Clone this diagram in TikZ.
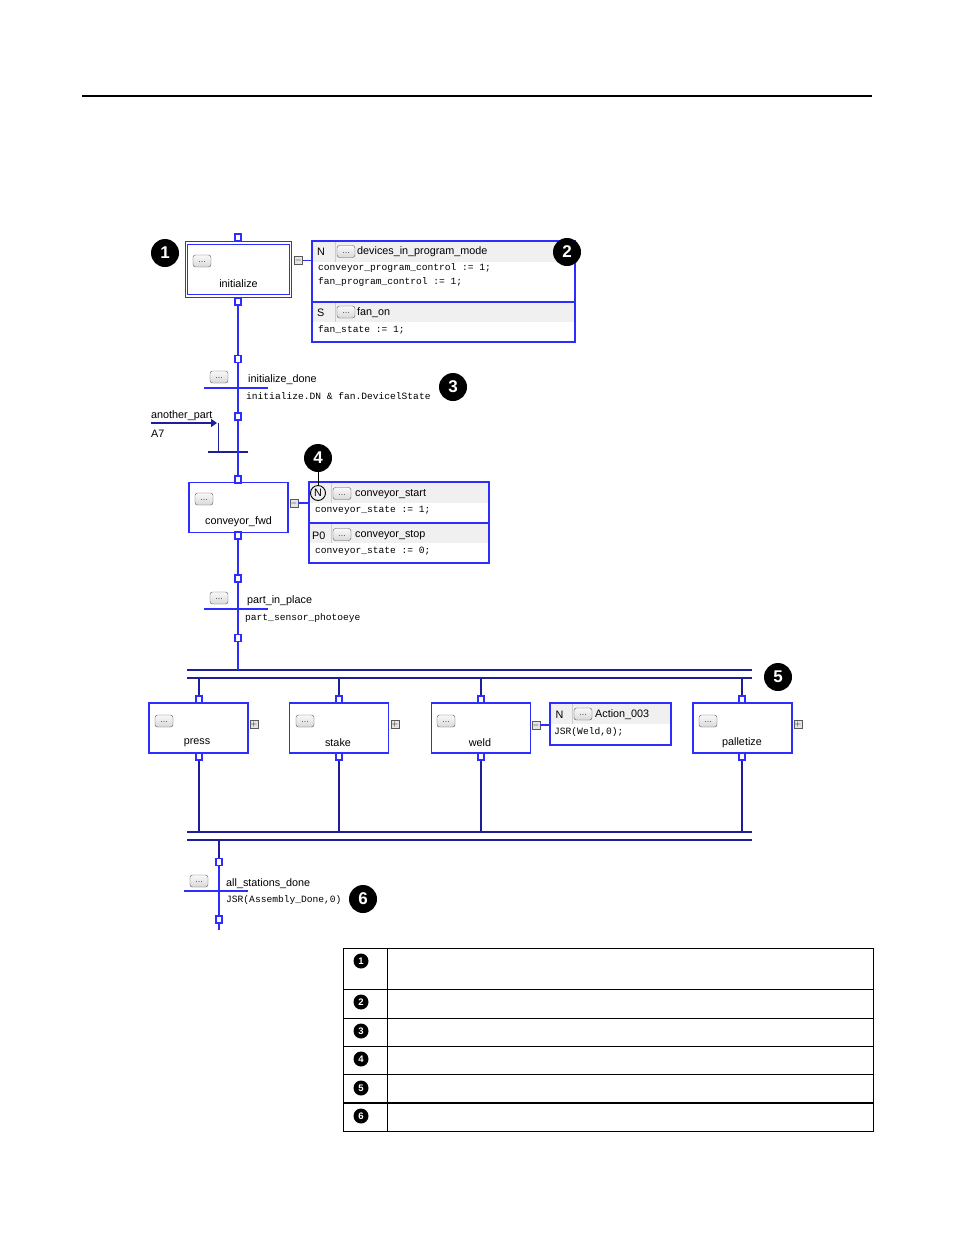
\documentclass[tikz,border=0pt]{standalone}
\usepackage{fontspec}
\setmainfont{Liberation Sans}
\newfontfamily\codefont{Liberation Mono}
\usetikzlibrary{arrows.meta}
\definecolor{sfcblue}{RGB}{45,45,255}
\definecolor{sfcnavy}{RGB}{30,30,150}
\definecolor{hdrgray}{RGB}{240,240,240}
\definecolor{sepgray}{RGB}{205,205,205}
\begin{document}
\begin{tikzpicture}[x=1pt,y=-1pt,
  lbl/.style={font=\fontsize{10.8}{12}\selectfont, anchor=west, inner sep=0pt, yshift=-1.5pt},
  steplbl/.style={font=\fontsize{10.8}{12}\selectfont, inner sep=0pt, yshift=-2pt},
  code/.style={font=\codefont\fontsize{9.6}{11}\selectfont, anchor=west, inner sep=0pt, yshift=-0.5pt},
  dots/.style={draw=gray!70!black, rounded corners=2.5pt, top color=gray!5, bottom color=gray!30,
    minimum width=18pt, minimum height=12pt, inner sep=0pt, font=\fontsize{9}{9}\selectfont, text=black!70,
    text depth=0pt, text height=3pt},
  pmbtn/.style={draw=gray!70!black, fill=gray!20, minimum size=8pt, inner sep=0pt, font=\fontsize{8}{8}\selectfont},
  conn/.style={draw=sfcblue, fill=white, line width=1.2pt, minimum width=6pt, minimum height=7pt, inner sep=0pt},
  stepbox/.style={draw=sfcblue, fill=white, line width=1.3pt, minimum width=99pt, minimum height=50pt, inner sep=0pt},
  actbox/.style={draw=sfcblue, line width=1.1pt, inner sep=0pt},
  badge/.style={circle, fill=black, text=white, minimum size=28pt, inner sep=0pt, font=\fontsize{17}{17}\selectfont\bfseries},
  smallbadge/.style={circle, fill=black, text=white, minimum size=15pt, inner sep=0pt, font=\fontsize{9.5}{9.5}\selectfont\bfseries},
  flow/.style={draw=sfcblue, line width=1.5pt},
  bar/.style={draw=sfcblue, line width=1.5pt},
  par/.style={draw=sfcnavy, line width=1.4pt},
  hsep/.style={draw=sfcblue, line width=1.1pt},
  qsep/.style={draw=sepgray, line width=0.8pt},
]
\fill[white] (0,0) rectangle (954,1235);
\useasboundingbox (0,0) rectangle (954,1235);

% top rule
\draw[line width=1.6pt] (82,96) -- (872,96);

% ---------- step: initialize ----------
\node[stepbox, double=white, double distance=1.6pt, line width=1.1pt, minimum width=104pt, minimum height=52.5pt] (init) at (238.5,269.5) {};
\node[dots] (d1) at (202,261) {...};
\node[steplbl] (l1) at (238.5,282) {initialize};
\node[conn] (c1t) at (238,237.5) {};
\node[conn] (c1b) at (238,301.5) {};

% action block 1
\fill[hdrgray] (312,241) rectangle (575,262);
\fill[hdrgray] (312,302) rectangle (575,322);
\draw[qsep] (335,242) -- (335,262);
\draw[qsep] (335,303) -- (335,322);
\node[actbox, minimum width=263pt, minimum height=101pt] (a1) at (443.5,291.5) {};
\draw[hsep] (312,302) -- (575,302);
\node[lbl] at (317,250.5) {N};
\node[dots] at (346,251.5) {...};
\node[lbl] at (357,250.5) {devices\_in\_program\_mode};
\node[code] at (318,268) {conveyor\_program\_control := 1;};
\node[code] at (318,282) {fan\_program\_control := 1;};
\node[lbl] at (317,311) {S};
\node[dots] at (346,312) {...};
\node[lbl] at (357,311) {fan\_on};
\node[code] at (318,329) {fan\_state := 1;};
\node[pmbtn] (m1) at (298.5,260.5) {$-$};
\draw[flow] (m1) -- (m1 -| a1.west);

% ---------- transition initialize_done ----------
\node[conn] (c2) at (238,359) {};
\node[conn] (c3) at (238,416.5) {};
\coordinate (t1l) at (204,388);
\coordinate (t1r) at (268,388);
\draw[bar] (t1l) -- (t1r);
\node[dots] at (219,377) {...};
\node[lbl] at (248,378) {initialize\_done};
\node[code] at (246,396) {initialize.DN \& fan.DevicelState};
\draw[flow] (c1b) -- (c2);
\draw[flow] (c2) -- (c3);

% selection convergence with jump
\coordinate (cvl) at (208,452);
\coordinate (cvr) at (248,452);
\draw[par] (cvl) -- (cvr);
\coordinate (ap0) at (151,423);
\coordinate (ap1) at (217,423);
\coordinate (ap2) at (218.5,422.5);
\coordinate (ap3) at (218.5,452);
\draw[par, -{Triangle[length=6pt,width=8pt]}] (ap0) -- (ap1);
\draw[par] (ap2) -- (ap3);
\node[lbl] at (151,414) {another\_part};
\node[lbl] at (151,432) {A7};

% ---------- step: conveyor_fwd ----------
\node[stepbox] (s2) at (238.5,507.5) {};
\node[dots] at (204,499) {...};
\node[steplbl] at (238.5,520) {conveyor\_fwd};
\node[conn] (c4) at (238,479.5) {};
\node[conn] (c5) at (238,535.5) {};
\draw[flow] (c3) -- (c4);

% action block 2
\fill[hdrgray] (309,482) rectangle (489,503);
\fill[hdrgray] (309,523) rectangle (489,543);
\draw[qsep] (331,483) -- (331,503);
\draw[qsep] (331,524) -- (331,543);
\node[actbox, minimum width=180pt, minimum height=81pt] (a2) at (399,522.5) {};
\draw[hsep] (309,523) -- (489,523);
\node[circle, draw=black, line width=0.9pt, minimum size=15pt, inner sep=0pt, font=\fontsize{10.8}{12}\selectfont] (q4) at (318,493) {N};
\node[dots] at (342,493.5) {...};
\node[lbl] at (355,493) {conveyor\_start};
\node[code] at (315,510) {conveyor\_state := 1;};
\node[lbl] at (312,534) {P0};
\node[dots] at (342,534.5) {...};
\node[lbl] at (355,534) {conveyor\_stop};
\node[code] at (315,550.5) {conveyor\_state := 0;};
\node[pmbtn] (m2) at (294,503) {$-$};
\draw[flow] (m2) -- (m2 -| a2.west);

% ---------- transition part_in_place ----------
\node[conn] (c6) at (238,578.5) {};
\node[conn] (c7) at (238,638) {};
\coordinate (t2l) at (204,609);
\coordinate (t2r) at (268,609);
\draw[bar] (t2l) -- (t2r);
\node[dots] at (219,598) {...};
\node[lbl] at (247,599) {part\_in\_place};
\node[code] at (245,618) {part\_sensor\_photoeye};
\draw[flow] (c5) -- (c6);
\draw[flow] (c6) -- (c7);

% ---------- simultaneous divergence ----------
\coordinate (pd1l) at (187,670);
\coordinate (pd1r) at (752,670);
\coordinate (pd2l) at (187,678);
\coordinate (pd2r) at (752,678);
\draw[par] (pd1l) -- (pd1r);
\draw[par] (pd2l) -- (pd2r);
\coordinate (pdin) at (238,670);
\draw[flow] (c7) -- (pdin);

% branch steps
\node[stepbox] (sp) at (198.5,728) {};
\node[stepbox] (ss) at (339,728) {};
\node[stepbox] (sw) at (481,728) {};
\node[stepbox] (sl) at (742.5,728) {};
\node[dots] at (164,721) {...};
\node[dots] at (305,721) {...};
\node[dots] at (446,721) {...};
\node[dots] at (708,721) {...};
\node[steplbl] at (197,741) {press};
\node[steplbl] at (338,741) {stake};
\node[steplbl] at (480,741) {weld};
\node[steplbl] at (742,741) {palletize};

\node[conn] (pt1) at (199,699.5) {};
\node[conn] (pt2) at (339,699.5) {};
\node[conn] (pt3) at (481,699.5) {};
\node[conn] (pt4) at (742,699.5) {};
\node[conn] (pb1) at (199,756.5) {};
\node[conn] (pb2) at (339,756.5) {};
\node[conn] (pb3) at (481,756.5) {};
\node[conn] (pb4) at (742,756.5) {};
\coordinate (bt1) at (199,678);
\coordinate (bt2) at (339,678);
\coordinate (bt3) at (481,678);
\coordinate (bt4) at (742,678);
\draw[par] (bt1) -- (pt1);
\draw[par] (bt2) -- (pt2);
\draw[par] (bt3) -- (pt3);
\draw[par] (bt4) -- (pt4);

\node[pmbtn] (p1) at (254,724) {$+$};
\node[pmbtn] (p2) at (395,724) {$+$};
\node[pmbtn] (p4) at (798,724.5) {$+$};

% action block 3
\fill[hdrgray] (550,703) rectangle (671,724);
\draw[qsep] (572,704) -- (572,724);
\node[actbox, minimum width=121pt, minimum height=42pt] (a3) at (610.5,724) {};
\node[lbl] at (555.5,713) {N};
\node[dots] at (583,714) {...};
\node[lbl] at (595,713) {Action\_003};
\node[code] at (554,732) {JSR(Weld,0);};
\node[pmbtn] (m3) at (536,725) {$-$};
\draw[flow] (m3) -- (m3 -| a3.west);

% ---------- simultaneous convergence ----------
\coordinate (pc1l) at (187,832);
\coordinate (pc1r) at (752,832);
\coordinate (pc2l) at (187,840);
\coordinate (pc2r) at (752,840);
\draw[par] (pc1l) -- (pc1r);
\draw[par] (pc2l) -- (pc2r);
\coordinate (bb1) at (199,832);
\coordinate (bb2) at (339,832);
\coordinate (bb3) at (481,832);
\coordinate (bb4) at (742,832);
\draw[par] (pb1) -- (bb1);
\draw[par] (pb2) -- (bb2);
\draw[par] (pb3) -- (bb3);
\draw[par] (pb4) -- (bb4);

% ---------- transition all_stations_done ----------
\coordinate (pcout) at (219,840);
\node[conn] (c8) at (219,862) {};
\node[conn] (c9) at (219,919.5) {};
\coordinate (t3l) at (184,891);
\coordinate (t3r) at (248,891);
\coordinate (tend) at (219,930);
\draw[bar] (t3l) -- (t3r);
\draw[par] (pcout) -- (c8);
\draw[flow] (c8) -- (c9);
\draw[flow] (c9) -- (tend);
\node[dots] at (199,881) {...};
\node[lbl] at (226,882) {all\_stations\_done};
\node[code] at (226,900) {JSR(Assembly\_Done,0)};

% ---------- callout badges ----------
\node[badge] (b1) at (165,253) {1};
\node[badge] (b2) at (567,252) {2};
\node[badge] (b3) at (453,387) {3};
\node[badge] (b4) at (318,458) {4};
\node[badge] (b5) at (778,677) {5};
\node[badge] (b6) at (363,899) {6};
\draw[line width=0.8pt] (b4) -- (q4);

% ---------- legend table ----------
\draw[line width=1pt] (343,948) rectangle (873,1131);
\draw[line width=1pt] (387,948) -- (387,1131);
\draw[line width=1pt] (343,989) -- (873,989);
\draw[line width=1pt] (343,1018) -- (873,1018);
\draw[line width=1pt] (343,1046) -- (873,1046);
\draw[line width=1pt] (343,1074) -- (873,1074);
\draw[line width=2pt] (343,1102.5) -- (873,1102.5);
\node[smallbadge] at (361,961) {1};
\node[smallbadge] at (361,1002) {2};
\node[smallbadge] at (361,1031) {3};
\node[smallbadge] at (361,1059) {4};
\node[smallbadge] at (361,1088) {5};
\node[smallbadge] at (361,1116) {6};
\end{tikzpicture}
\end{document}
